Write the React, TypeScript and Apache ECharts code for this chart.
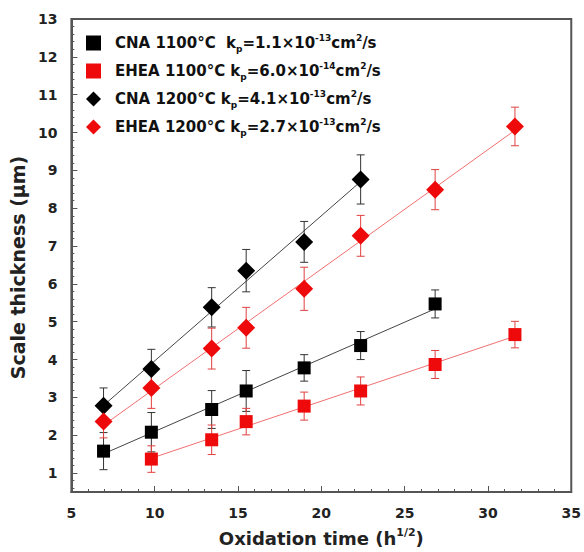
import React, { useEffect, useRef } from "react";
import * as echarts from "echarts";

const xTime = [6.93, 9.8, 13.42, 15.49, 18.97, 22.36, 26.83, 31.62];

const cna1100X = xTime.slice(0, 7);
const cna1100 = [1.58, 2.08, 2.68, 3.17, 3.78, 4.37, 5.47];
const cna1100Err = [0.49, 0.52, 0.5, 0.54, 0.35, 0.37, 0.37];

const ehea1100X = xTime.slice(1, 8);
const ehea1100 = [1.37, 1.88, 2.36, 2.77, 3.17, 3.87, 4.66];
const ehea1100Err = [0.35, 0.39, 0.35, 0.37, 0.37, 0.37, 0.35];

const cna1200X = xTime.slice(0, 6);
const cna1200 = [2.78, 3.75, 5.38, 6.35, 7.11, 8.76];
const cna1200Err = [0.47, 0.52, 0.52, 0.56, 0.54, 0.65];

const ehea1200X = xTime;
const ehea1200 = [2.36, 3.25, 4.29, 4.84, 5.87, 7.27, 8.49, 10.16];
const ehea1200Err = [0.43, 0.54, 0.54, 0.54, 0.57, 0.54, 0.53, 0.51];

const yTickLabels = [1, 2, 3, 4, 5, 6, 7, 8, 9, 10, 11, 12, 13];
const yMinorTicks: number[] = [];
for (let i = 3; i <= 65; i++) yMinorTicks.push(Math.round(i * 20) / 100);

const seriesNames = ["CNA 1100", "EHEA 1100", "CNA 1200", "EHEA 1200"];
const legendTexts: Record<string, string> = {
  "CNA 1100": "{a|CNA 1100°C  k}{sub|p}{a|=1.1×10}{sup|-13}{a|cm}{sup|2}{a|/s}",
  "EHEA 1100": "{a|EHEA 1100°C k}{sub|p}{a|=6.0×10}{sup|-14}{a|cm}{sup|2}{a|/s}",
  "CNA 1200": "{a|CNA 1200°C k}{sub|p}{a|=4.1×10}{sup|-13}{a|cm}{sup|2}{a|/s}",
  "EHEA 1200": "{a|EHEA 1200°C k}{sub|p}{a|=2.7×10}{sup|-13}{a|cm}{sup|2}{a|/s}",
};

const FONT = "DejaVu Sans";
const RED = "#ee0a0a";
const BLACK = "#000000";

function fitLine(xs: number[], ys: number[]) {
  const n = xs.length;
  const mx = xs.reduce((a, b) => a + b, 0) / n;
  const my = ys.reduce((a, b) => a + b, 0) / n;
  let sxy = 0,
    sxx = 0;
  for (let i = 0; i < n; i++) {
    sxy += (xs[i] - mx) * (ys[i] - my);
    sxx += (xs[i] - mx) * (xs[i] - mx);
  }
  const b = sxy / sxx;
  const a = my - b * mx;
  const x0 = Math.min(...xs);
  const x1 = Math.max(...xs);
  return [
    [x0, a + b * x0],
    [x1, a + b * x1],
  ];
}

function errSeries(xs: number[], ys: number[], es: number[], color: string) {
  return {
    type: "custom",
    silent: true,
    z: 3,
    encode: { x: 0, y: [1, 2] },
    data: xs.map((x, i) => [x, ys[i] - es[i], ys[i] + es[i]]),
    renderItem: (_params: any, api: any) => {
      const x = api.value(0);
      const lo = api.value(1);
      const hi = api.value(2);
      const p1 = api.coord([x, hi]);
      const p2 = api.coord([x, lo]);
      const w = 4;
      const st = { stroke: color, lineWidth: 1 };
      return {
        type: "group",
        children: [
          { type: "line", shape: { x1: p1[0], y1: p1[1], x2: p2[0], y2: p2[1] }, style: st },
          { type: "line", shape: { x1: p1[0] - w, y1: p1[1], x2: p1[0] + w, y2: p1[1] }, style: st },
          { type: "line", shape: { x1: p2[0] - w, y1: p2[1], x2: p2[0] + w, y2: p2[1] }, style: st },
        ],
      };
    },
  };
}

function lineSeries(xs: number[], ys: number[], color: string) {
  return {
    type: "line",
    silent: true,
    symbol: "none",
    z: 2,
    data: fitLine(xs, ys),
    lineStyle: { color, width: 1 },
  };
}

function scatterSeries(name: string, xs: number[], ys: number[], color: string, symbol: string, size: number) {
  return {
    type: "scatter",
    name,
    symbol,
    symbolSize: size,
    z: 4,
    itemStyle: { color, opacity: 1 },
    data: xs.map((x, i) => [x, ys[i]]),
  };
}

export default function App() {
  const ref = useRef<HTMLDivElement>(null);
  useEffect(() => {
    if (!ref.current) return;
    const chart = echarts.init(ref.current, undefined, { renderer: "svg" });
    const axisLineStyle = { color: "#555", width: 2 };
    const labelStyle = { fontFamily: FONT, fontWeight: "bold" as const, fontSize: 14, color: "#222" };
    chart.setOption({
      animation: false,
      backgroundColor: "#fff",
      grid: {
        left: 69,
        right: 9,
        top: 19,
        bottom: 55,
        show: true,
        borderColor: "#555",
        borderWidth: 2,
        backgroundColor: "transparent",
      },
      legend: {
        orient: "vertical",
        left: 81,
        top: 28,
        itemWidth: 15,
        itemHeight: 15,
        itemGap: 8,
        selectedMode: false,
        data: [
          { name: seriesNames[0], icon: "rect" },
          { name: seriesNames[1], icon: "rect" },
          { name: seriesNames[2], icon: "diamond" },
          { name: seriesNames[3], icon: "diamond" },
        ],
        formatter: (name: string) => legendTexts[name],
        textStyle: {
          padding: [0, 0, 0, 9],
          rich: {
            a: { fontFamily: FONT, fontWeight: "bold", fontSize: 15, color: "#111", lineHeight: 20 },
            sub: { fontFamily: FONT, fontWeight: "bold", fontSize: 9, color: "#111", lineHeight: 10, verticalAlign: "bottom" },
            sup: { fontFamily: FONT, fontWeight: "bold", fontSize: 9, color: "#111", lineHeight: 10, verticalAlign: "top" },
          },
        },
      },
      xAxis: {
        type: "value",
        min: 5,
        max: 35,
        interval: 5,
        name: "{a|Oxidation time (h}{sup|1/2}{a|)}",
        nameLocation: "middle",
        nameGap: 35,
        nameTextStyle: {
          rich: {
            a: { fontFamily: FONT, fontWeight: "bold", fontSize: 18, color: "#222", lineHeight: 22 },
            sup: { fontFamily: FONT, fontWeight: "bold", fontSize: 11, color: "#222", lineHeight: 12, verticalAlign: "top" },
          },
        },
        axisLine: { lineStyle: axisLineStyle },
        axisTick: { inside: true, length: 6, lineStyle: { color: "#555", width: 1 } },
        minorTick: { show: true, splitNumber: 5, length: 3, lineStyle: { color: "#555", width: 1 } },
        splitLine: { show: false },
        axisLabel: { ...labelStyle, margin: 14 },
      },
      yAxis: [
        {
          type: "value",
          min: 0.5,
          max: 13,
          name: "Scale thickness (μm)",
          nameLocation: "middle",
          nameGap: 40,
          nameTextStyle: { fontFamily: FONT, fontWeight: "bold", fontSize: 19, color: "#222", padding: [0, 24, 0, 0] },
          axisLine: { lineStyle: axisLineStyle },
          axisTick: { inside: true, length: 6, customValues: yTickLabels, lineStyle: { color: "#555", width: 1 } },
          splitLine: { show: false },
          axisLabel: { ...labelStyle, margin: 14, customValues: yTickLabels },
        },
        {
          type: "value",
          min: 0.5,
          max: 13,
          position: "left",
          axisLine: { show: false },
          axisTick: { inside: true, length: 3, customValues: yMinorTicks, lineStyle: { color: "#555", width: 1 } },
          splitLine: { show: false },
          axisLabel: { show: false },
        },
      ],
      series: [
        lineSeries(cna1100X, cna1100, "#444"),
        lineSeries(ehea1100X, ehea1100, "#f07070"),
        lineSeries(cna1200X, cna1200, "#444"),
        lineSeries(ehea1200X, ehea1200, "#f07070"),
        errSeries(cna1100X, cna1100, cna1100Err, "#333"),
        errSeries(ehea1100X, ehea1100, ehea1100Err, "#e04040"),
        errSeries(cna1200X, cna1200, cna1200Err, "#333"),
        errSeries(ehea1200X, ehea1200, ehea1200Err, "#e04040"),
        scatterSeries(seriesNames[0], cna1100X, cna1100, BLACK, "rect", 13),
        scatterSeries(seriesNames[1], ehea1100X, ehea1100, RED, "rect", 13),
        scatterSeries(seriesNames[2], cna1200X, cna1200, BLACK, "diamond", 18),
        scatterSeries(seriesNames[3], ehea1200X, ehea1200, RED, "diamond", 18),
      ],
    });
    return () => chart.dispose();
  }, []);
  return <div ref={ref} style={{ width: 584, height: 552, position: "absolute", left: 0, top: 0 }} />;
}
